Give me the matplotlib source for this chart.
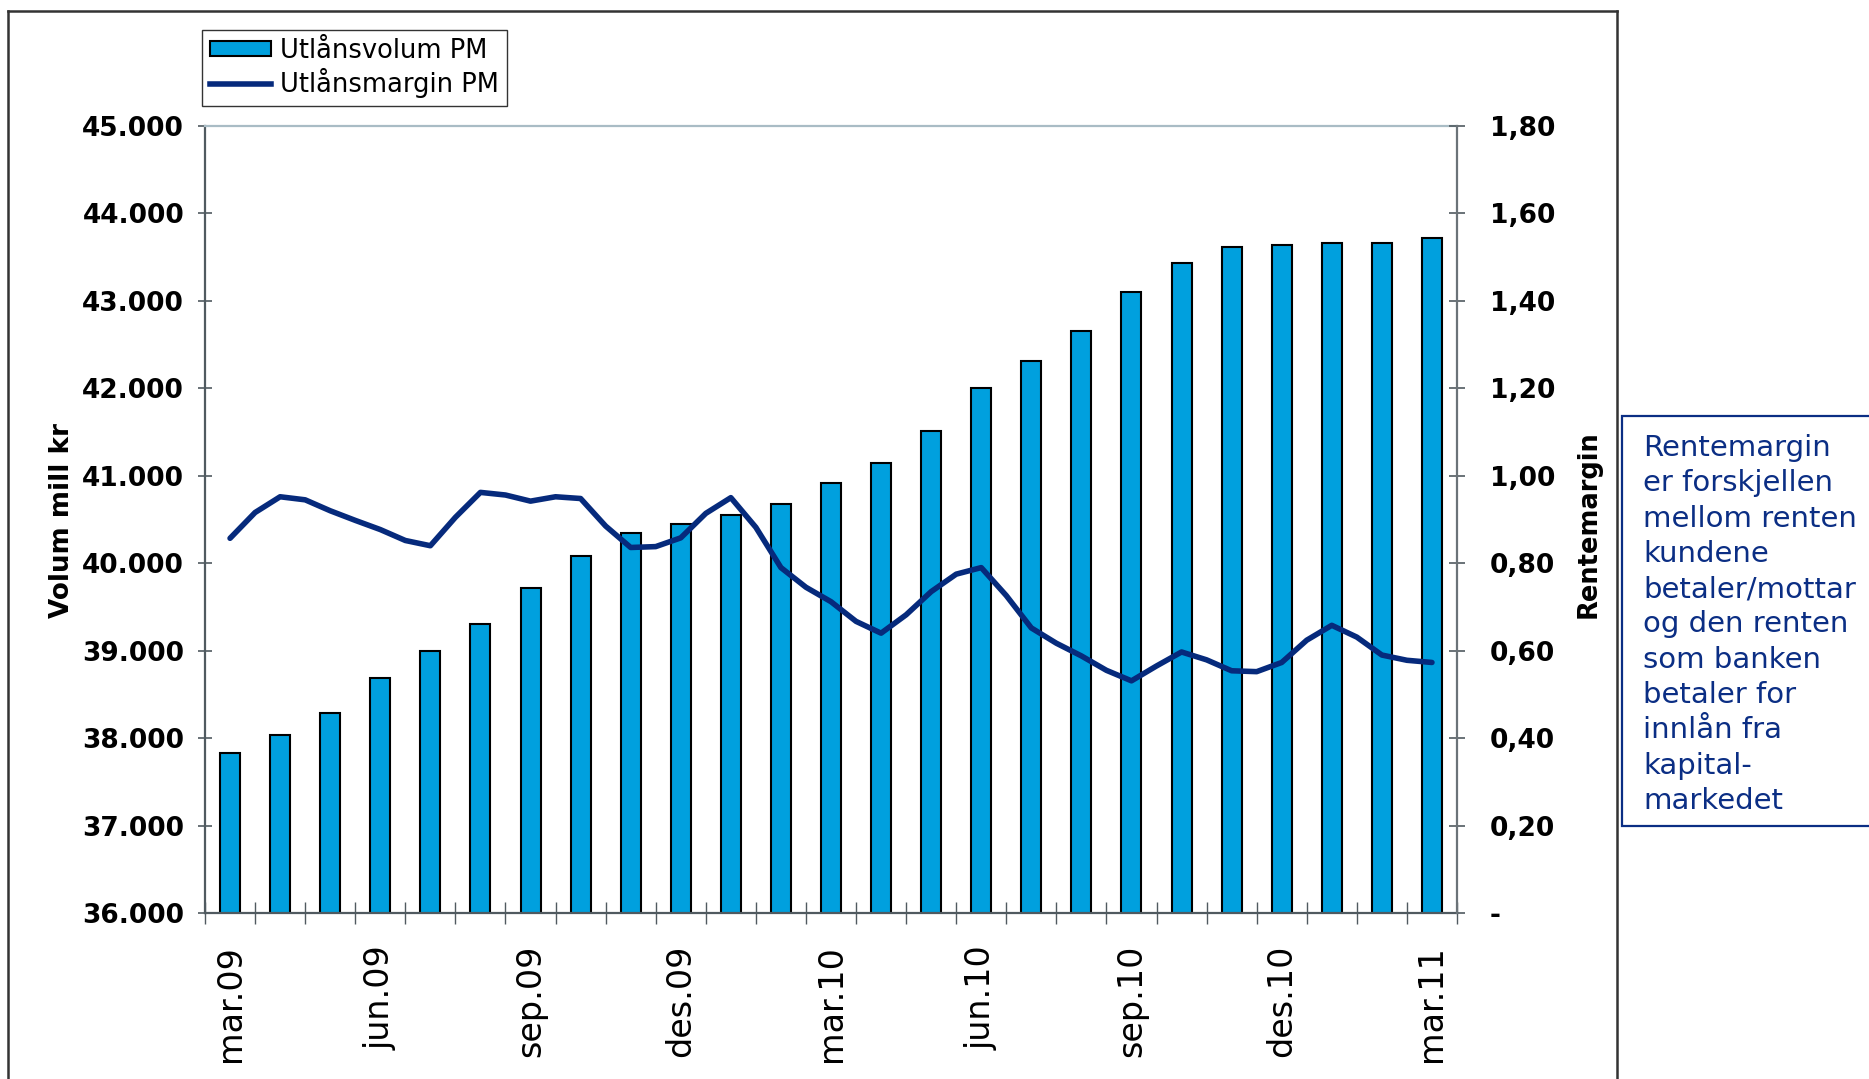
import matplotlib
matplotlib.use("Agg")
import matplotlib.pyplot as plt
import numpy as np
from matplotlib.patches import Rectangle, Patch
from matplotlib.lines import Line2D
from matplotlib.ticker import FuncFormatter, FixedLocator

# ---------------- data ----------------
months = ["mar.09", "apr.09", "mai.09", "jun.09", "jul.09", "aug.09", "sep.09",
          "okt.09", "nov.09", "des.09", "jan.10", "feb.10", "mar.10", "apr.10",
          "mai.10", "jun.10", "jul.10", "aug.10", "sep.10", "okt.10", "nov.10",
          "des.10", "jan.11", "feb.11", "mar.11"]
volume = [37830, 38030, 38290, 38688, 38996, 39305, 39720, 40085, 40349, 40449,
          40548, 40681, 40914, 41150, 41512, 42008, 42317, 42656, 43098, 43430,
          43613, 43640, 43666, 43666, 43716]
# margin read at half-month steps (month index 0 .. 24)
margin_t = np.arange(0, 24.5, 0.5)
margin = [0.857, 0.916, 0.952, 0.945, 0.920, 0.898, 0.877, 0.852, 0.840, 0.905,
          0.962, 0.956, 0.942, 0.952, 0.948, 0.885, 0.836, 0.838, 0.858, 0.914,
          0.950, 0.882, 0.790, 0.745, 0.712, 0.667, 0.640, 0.682, 0.735, 0.775,
          0.790, 0.726, 0.652, 0.617, 0.588, 0.555, 0.531, 0.565, 0.597, 0.579,
          0.554, 0.552, 0.573, 0.624, 0.658, 0.631, 0.590, 0.578, 0.573]
left_ticks = [36000, 37000, 38000, 39000, 40000, 41000, 42000, 43000, 44000, 45000]
right_ticks = [0.0, 0.2, 0.4, 0.6, 0.8, 1.0, 1.2, 1.4, 1.6, 1.8]
label_every = 3
legend_labels = ["Utlånsvolum PM", "Utlånsmargin PM"]
ylabel_left = "Volum mill kr"
ylabel_right = "Rentemargin"
note_lines = ["Rentemargin", "er forskjellen", "mellom renten", "kundene",
              "betaler/mottar", "og den renten", "som banken", "betaler for",
              "innlån fra", "kapital-", "markedet"]

# ---------------- style ----------------
W, H = 1869, 1079
BAR = "#00A0DE"
NAVY = "#062A7C"
TXT_NAVY = "#0B2E84"
AXGREY = "#505A60"

plt.rcParams["font.family"] = ["DejaVu Sans"]
fig = plt.figure(figsize=(W / 100, H / 100), dpi=100)

def fx(px):
    return px / W

def fy(py):
    return 1 - py / H

L, R, T, B = 205, 1457, 126, 913
ax = fig.add_axes([fx(L), fy(B), fx(R) - fx(L), fy(T) - fy(B)])
ax2 = ax.twinx()

x = np.arange(len(volume))
ax.bar(x, volume, width=0.4, color=BAR, edgecolor="black", linewidth=1.5, zorder=2)
ax.set_xlim(-0.5, len(volume) - 0.5)
ax.set_ylim(36000, 45000)
ax2.set_ylim(0, 1.8)

ax2.plot(margin_t, margin, color=NAVY, linewidth=4.0, solid_joinstyle="round",
         solid_capstyle="round", antialiased=True, zorder=3)

# spines
for s in ["left", "bottom"]:
    ax.spines[s].set_color(AXGREY)
    ax.spines[s].set_linewidth(1.6)
ax.spines["right"].set_visible(False)
ax.spines["top"].set_color("#A9BCC5")
ax.spines["top"].set_linewidth(1.6)
for s in ["left", "bottom", "top"]:
    ax2.spines[s].set_visible(False)
ax2.spines["right"].set_color("#6B7378")
ax2.spines["right"].set_linewidth(1.6)

# left y axis
ax.yaxis.set_major_locator(FixedLocator(left_ticks))
ax.yaxis.set_major_formatter(FuncFormatter(lambda v, p: f"{int(round(v)):,}".replace(",", ".")))
ax.tick_params(axis="y", direction="inout", length=10, width=1.2, color=AXGREY,
               pad=10, labelsize=19)
for t in ax.get_yticklabels():
    t.set_fontweight("bold")

# right y axis
ax2.yaxis.set_major_locator(FixedLocator(right_ticks))
ax2.yaxis.set_major_formatter(FuncFormatter(
    lambda v, p: "-" if abs(v) < 1e-9 else f"{v:.2f}".replace(".", ",")))
ax2.tick_params(axis="y", direction="inout", length=11, width=1.2, color=AXGREY,
                pad=18, labelsize=19)
for t in ax2.get_yticklabels():
    t.set_fontweight("bold")

# x axis: boundary ticks + labels every 3rd month
ax.xaxis.set_major_locator(FixedLocator(np.arange(-0.5, len(volume), 1.0)))
ax.xaxis.set_major_formatter(FuncFormatter(lambda v, p: ""))
ax.tick_params(axis="x", which="major", direction="inout", length=16, width=1.0,
               color=AXGREY)
lab_pos = list(range(0, len(months), label_every))
ax.xaxis.set_minor_locator(FixedLocator(lab_pos))
ax.set_xticklabels([months[i] for i in lab_pos], minor=True)
ax.tick_params(axis="x", which="minor", length=0, pad=23, labelsize=24,
               labelrotation=90)

# axis labels
fig.text(fx(62), fy(521), ylabel_left, rotation=90, ha="center", va="center",
         fontsize=18.8, fontweight="bold")
fig.text(fx(1589), fy(524), ylabel_right, rotation=90, ha="center", va="center",
         fontsize=18.5, fontweight="bold")

# legend
handles = [Patch(facecolor=BAR, edgecolor="black", linewidth=1.5),
           Line2D([0], [0], color=NAVY, linewidth=4.0)]
leg = fig.legend(handles, legend_labels, loc="upper left",
                 bbox_to_anchor=(fx(202), fy(30)), borderaxespad=0,
                 fontsize=18.5, frameon=True, fancybox=False, shadow=False,
                 handlelength=2.4, handleheight=0.5, handletextpad=0.35,
                 labelspacing=0.18, borderpad=0.3)
leg.get_frame().set_edgecolor("black")
leg.get_frame().set_linewidth(1.0)

# outer frame
fig.add_artist(Line2D([fx(8), fx(8)], [fy(11), fy(1090)], color="#333333", lw=1.8,
                      transform=fig.transFigure))
fig.add_artist(Line2D([fx(1617), fx(1617)], [fy(11), fy(1090)], color="#333333", lw=1.8,
                      transform=fig.transFigure))
fig.add_artist(Line2D([fx(8), fx(1617)], [fy(11), fy(11)], color="#333333", lw=1.8,
                      transform=fig.transFigure))

# note box
fig.add_artist(Rectangle((fx(1622), fy(826)), fx(1900) - fx(1622), fy(416) - fy(826),
                         transform=fig.transFigure, facecolor="white",
                         edgecolor=TXT_NAVY, linewidth=1.6))
for i, line in enumerate(note_lines):
    fig.text(fx(1643), fy(456 + i * 35.3), line, ha="left", va="baseline",
             fontsize=21, color=TXT_NAVY)

fig.savefig("out.png", dpi=100)
